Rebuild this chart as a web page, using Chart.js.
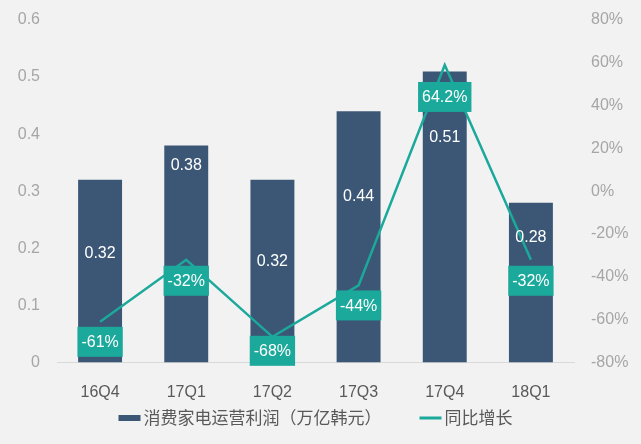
<!DOCTYPE html>
<html>
<head>
<meta charset="utf-8">
<script src="https://cdn.jsdelivr.net/npm/chart.js@4/dist/chart.umd.min.js"></script>
<style>
html,body{margin:0;padding:0;background:#f2f2f2;}
#wrap{width:641px;height:444px;position:relative;}
</style>
</head>
<body>
<div id="wrap"><canvas id="c" width="641" height="444"></canvas></div>
<script>
// ---- data ----
const categories = ['16Q4','17Q1','17Q2','17Q3','17Q4','18Q1'];
const profit = [0.32, 0.38, 0.32, 0.44, 0.51, 0.28];
const profitLabels = ['0.32','0.38','0.32','0.44','0.51','0.28'];
const yoy = [-61, -32, -68, -44, 59, -32];
const yoyLabels = ['-61%','-32%','-68%','-44%','64.2%','-32%'];
const leftTicks = [0, 0.1, 0.2, 0.3, 0.4, 0.5, 0.6];
const rightTicks = [-80, -60, -40, -20, 0, 20, 40, 60, 80];
const seriesNames = ['消费家电运营利润（万亿韩元）', '同比增长'];

const BAR = '#3b5775';
const TEAL = '#1ba99b';
const FONT = '"Liberation Sans", Arial, "Noto Sans CJK SC", sans-serif';

// label placement (layout, not data)
const barLabelAt = [0.191, 0.345, 0.176, 0.291, 0.394, 0.218];
const lineLabelOffset = [20, 21, 14, 20, 32, 21];

const labelPlugin = {
  id: 'labels',
  afterDatasetsDraw(chart) {
    const ctx = chart.ctx;
    const yL = chart.scales.y;
    const barMeta = chart.getDatasetMeta(0);
    const lineMeta = chart.getDatasetMeta(1);
    ctx.save();
    ctx.font = '16px ' + FONT;
    ctx.textAlign = 'center';
    ctx.textBaseline = 'middle';
    ctx.fillStyle = '#ffffff';
    barMeta.data.forEach((bar, i) => {
      ctx.fillText(profitLabels[i], bar.x, yL.getPixelForValue(barLabelAt[i]));
    });
    lineMeta.data.forEach((pt, i) => {
      const txt = yoyLabels[i];
      const w = ctx.measureText(txt).width + 8;
      const h = 30;
      const cy = pt.y + lineLabelOffset[i];
      ctx.fillStyle = TEAL;
      ctx.fillRect(pt.x - w / 2, cy - h / 2, w, h);
      ctx.fillStyle = '#ffffff';
      ctx.fillText(txt, pt.x, cy + 1);
    });
    ctx.restore();
  },
  afterDraw(chart) {
    // legend drawn from the datasets
    const ctx = chart.ctx;
    ctx.save();
    ctx.font = '17px ' + FONT;
    ctx.textBaseline = 'middle';
    ctx.textAlign = 'left';
    const box = 22, gapText = 3, gapItem = 38, cy = 418;
    const items = chart.data.datasets.map(ds => ({ text: ds.label, color: ds.type === 'bar' ? ds.backgroundColor : ds.borderColor, line: ds.type === 'line' }));
    const widths = items.map(it => box + gapText + ctx.measureText(it.text).width);
    const total = widths.reduce((a, b) => a + b, 0) + gapItem * (items.length - 1);
    const a = chart.chartArea;
    let x = (a.left + a.right - total) / 2;
    items.forEach((it, i) => {
      ctx.fillStyle = it.color;
      if (it.line) ctx.fillRect(x, cy - 1.5, box, 3);
      else ctx.fillRect(x, cy - 3, box, 6);
      ctx.fillStyle = '#595959';
      ctx.fillText(it.text, x + box + gapText, cy + 1);
      x += widths[i] + gapItem;
    });
    ctx.restore();
  }
};

function fixY(width) {
  return function (s) { s.width = width; s.paddingTop = 0; s.paddingBottom = 0; };
}

new Chart(document.getElementById('c'), {
  data: {
    labels: categories,
    datasets: [
      {
        type: 'bar',
        label: seriesNames[0],
        data: profit,
        backgroundColor: BAR,
        borderWidth: 0,
        yAxisID: 'y',
        categoryPercentage: 1,
        barPercentage: 0.51,
        order: 2
      },
      {
        type: 'line',
        label: seriesNames[1],
        data: yoy,
        borderColor: TEAL,
        backgroundColor: TEAL,
        borderWidth: 2.5,
        pointRadius: 0,
        tension: 0,
        yAxisID: 'y1',
        order: 1
      }
    ]
  },
  options: {
    responsive: false,
    animation: false,
    layout: { padding: { top: 20, bottom: 44, left: 0, right: 0 } },
    plugins: {
      tooltip: { enabled: false },
      legend: { display: false }
    },
    scales: {
      x: {
        grid: { display: false, drawTicks: false },
        border: { display: true, color: '#d9d9d9', width: 1 },
        ticks: { font: { size: 16, family: FONT }, color: '#595959', padding: 20 },
        afterFit(s) { s.height = 37.5; }
      },
      y: {
        position: 'left',
        min: 0, max: 0.6,
        afterBuildTicks(s) { s.ticks = leftTicks.map(v => ({ value: v })); },
        grid: { display: false, drawTicks: false },
        border: { display: false },
        ticks: {
          font: { size: 16, family: FONT }, color: '#a6a6a6', padding: 17,
          callback: v => (v === 0 ? '0' : v.toFixed(1))
        },
        afterFit: fixY(57)
      },
      y1: {
        position: 'right',
        min: -80, max: 80,
        afterBuildTicks(s) { s.ticks = rightTicks.map(v => ({ value: v })); },
        grid: { display: false, drawTicks: false },
        border: { display: false },
        ticks: {
          font: { size: 16, family: FONT }, color: '#a6a6a6', padding: 17,
          callback: v => v + '%'
        },
        afterFit: fixY(67)
      }
    }
  },
  plugins: [labelPlugin]
});
</script>
</body>
</html>
